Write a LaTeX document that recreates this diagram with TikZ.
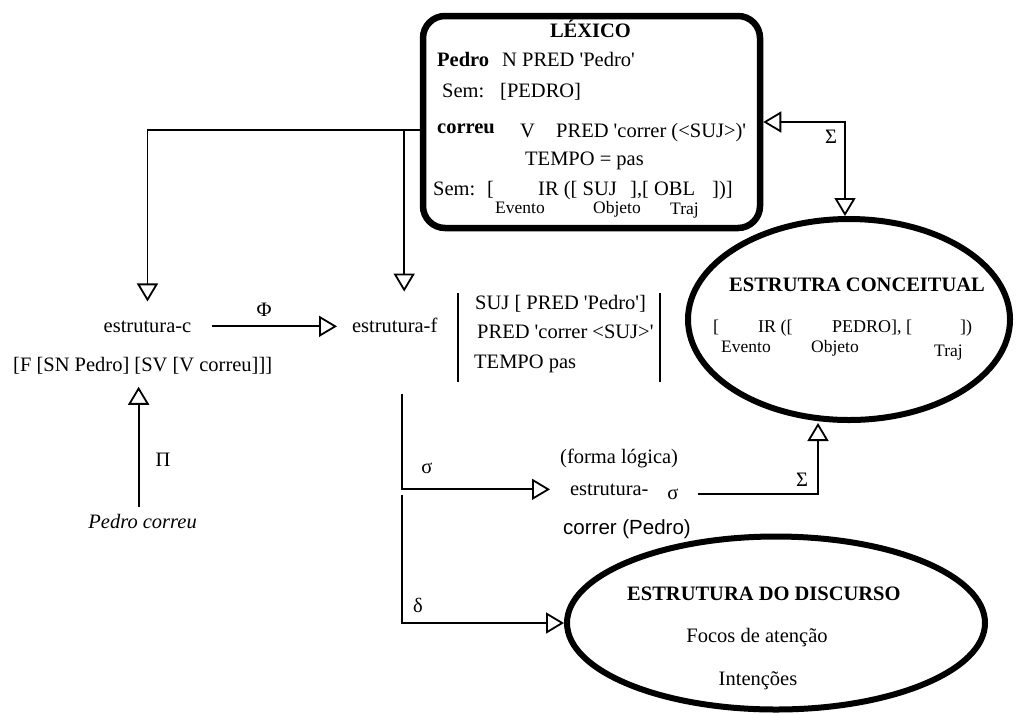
\documentclass[tikz,border=0pt]{standalone}
\usepackage{fontspec}
\setmainfont{Liberation Serif}[Ligatures=TeXOff]
\newfontfamily\arialfont{Liberation Sans}[Ligatures=TeXOff]
\usetikzlibrary{arrows.meta,shapes.geometric}

\begin{document}
\begin{tikzpicture}[x=1pt,y=-1pt,
  txt/.style={inner sep=0pt, font=\fontsize{20.5}{24}\selectfont},
  bld/.style={inner sep=0pt, font=\fontsize{20.5}{24}\selectfont\bfseries},
  mid/.style={inner sep=0pt, font=\fontsize{18}{21}\selectfont},
  sml/.style={inner sep=0pt, font=\fontsize{17.5}{20}\selectfont},
  thick outline/.style={draw, line width=6.5pt, inner sep=0pt},
  conn/.style={line width=1.8pt,
    -{Triangle[open,length=18pt,width=21pt]}},
  biconn/.style={line width=1.8pt,
    {Triangle[open,length=18pt,width=21pt]}-{Triangle[open,length=18pt,width=21pt]}},
  bar/.style={line width=1.8pt}
]
\useasboundingbox (0,0) rectangle (1016,713);

% ---------- lexicon box ----------
\node[thick outline, rounded corners=22pt, minimum width=337pt, minimum height=212pt]
  (lex) at (591.5,122) {};
\node[bld, anchor=base] (lexT) at (590.5,37) {LÉXICO};
\node[bld, anchor=base west] (lp) at (437,66) {Pedro};
\node[txt, anchor=base west] (lpn) at (502,66) {N PRED 'Pedro'};
\node[txt, anchor=base west] (ls) at (442,97) {Sem:};
\node[txt, anchor=base west] (lsp) at (500,97) {[PEDRO]};
\node[bld, anchor=base west] (lc) at (437,133) {correu};
\node[txt, anchor=base west] (lv) at (520,137) {V};
\node[txt, anchor=base west] (lvp) at (556,137) {PRED 'correr (<SUJ>)'};
\node[txt, anchor=base west] (lt) at (525,165) {TEMPO = pas};
\node[txt, anchor=base west] (ls2) at (433,195) {Sem:};
\node[txt, anchor=base west] (lb) at (487,195) {[};
\node[txt, anchor=base west] (lir) at (538,195) {IR ([ SUJ};
\node[txt, anchor=base west] (lobl) at (630,195) {],[ OBL};
\node[txt, anchor=base west] (lend) at (712,195) {])]};
\node[sml, anchor=base west] (lev) at (495,213) {Evento};
\node[sml, anchor=base west] (lob) at (593,213) {Objeto};
\node[sml, anchor=base west] (ltr) at (670,214) {Traj};

% ---------- conceptual structure ----------
\node[thick outline, ellipse, line width=6pt, minimum width=322pt, minimum height=201pt]
  (conc) at (849,319.5) {};
\node[bld, anchor=base west] (ct) at (729,291) {ESTRUTRA CONCEITUAL};
\node[mid, anchor=base west] (c1) at (713,332) {[};
\node[mid, anchor=base west] (c2) at (758,332) {IR ([};
\node[mid, anchor=base west] (c3) at (832,332) {PEDRO], [};
\node[mid, anchor=base west] (c4) at (960,332) {])};
\node[sml, anchor=base west] (cev) at (721,352) {Evento};
\node[sml, anchor=base west] (cob) at (811,352) {Objeto};
\node[sml, anchor=base west] (ctr) at (934,356) {Traj};

% ---------- discourse structure ----------
\node[thick outline, ellipse, line width=6pt, minimum width=418pt, minimum height=173pt]
  (disc) at (776,623) {};
\node[bld, anchor=base west] (dt) at (627,600) {ESTRUTURA DO DISCURSO};
\node[txt, anchor=base] (df) at (757,642) {Focos de atenção};
\node[txt, anchor=base] (di) at (758,685) {Intenções};

% ---------- c-structure ----------
\node[txt, anchor=base, outer xsep=21pt, outer ysep=19pt] (ec) at (147.5,332) {estrutura-c};
\node[txt, anchor=base west, outer ysep=13pt] (fsn) at (13,371) {[F [SN Pedro] [SV [V correu]]]};
\node[txt, font=\fontsize{20.5}{24}\selectfont\itshape, anchor=base east, outer ysep=7pt]
  (pc) at (197,528) {Pedro correu};
\node[txt] (pi) at (163,460) {Π};

% ---------- f-structure ----------
% the anchor sits on the outer border, 15pt left of the text
\node[txt, anchor=base west, outer xsep=15pt, outer ysep=26pt] (ef) at (337,332) {estrutura-f};
\node[txt] (phi) at (264,310) {Φ};
\node[txt, anchor=base west] (fs1) at (475,309) {SUJ [ PRED 'Pedro']};
\node[txt, anchor=base west] (fs2) at (477,338) {PRED 'correr <SUJ>'};
\node[txt, anchor=base west] (fs3) at (474,368) {TEMPO pas};
\draw[bar] (458,293) -- (458,382);
\draw[bar] (660,293) -- (660,382);

% ---------- logical form ----------
\node[txt, anchor=base west] (flg) at (560,463) {(forma lógica)};
\node[txt, anchor=base west, outer xsep=20pt] (es) at (550,495) {estrutura-};
\node[txt, outer xsep=19pt] (sg) at (673,494) {σ};
\node[txt, font=\fontsize{20.5}{24}\selectfont\arialfont, anchor=base west] (cp) at (563,534) {correr (Pedro)};

% ---------- labels ----------
\node[txt] (sigL) at (427,468) {σ};
\node[txt] (delL) at (418,605) {δ};
\node[txt] (SigB) at (802,480) {Σ};
\node[txt] (SigT) at (831,137) {Σ};

% ---------- connectors ----------
\coordinate (fsBot) at (402,394);
\coordinate (dStart) at (402,495);

\draw[conn] ([yshift=-8pt]lex.west) -| (ec.north);
\draw[conn] ([yshift=-8pt]lex.west) -| ([xshift=9.5pt]ef.north);
\draw[conn] (ec.east) -- (ec.east -| ef.west);
\draw[conn] ([xshift=-4pt]pc.north) -- ([xshift=-4pt]pc.north |- fsn.south);
\draw[conn] (fsBot) |- (es.west);
\draw[conn] (dStart) |- (disc.west);
\draw[conn] (sg.east) -| ([xshift=-31pt]conc.south);
\draw[biconn] (lex.east) -| ([xshift=-4pt]conc.north);
\end{tikzpicture}
\end{document}
